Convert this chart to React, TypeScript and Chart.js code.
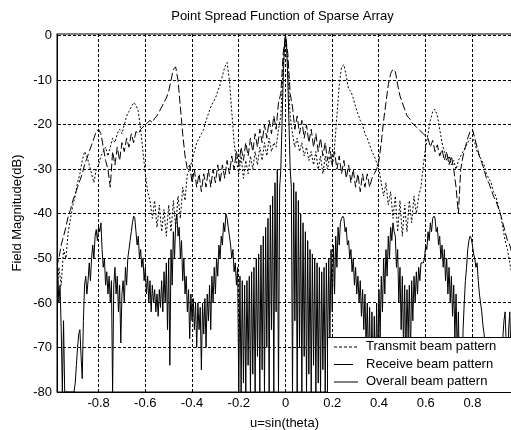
import React, { useEffect, useRef } from "react";
import { Chart, registerables } from "chart.js";

Chart.register(...registerables);

const TITLE = "Point Spread Function of Sparse Array";
const X_TITLE = "u=sin(theta)";
const Y_TITLE = "Field Magnitude(dB)";
const LEGEND_LABELS = ["Transmit beam pattern", "Receive beam pattern", "Overall beam pattern"];

const X_TICKS = [-0.8, -0.6, -0.4, -0.2, 0, 0.2, 0.4, 0.6, 0.8];
const X_TICK_LABELS = ["-0.8", "-0.6", "-0.4", "-0.2", "0", "0.2", "0.4", "0.6", "0.8"];
const Y_TICKS = [0, -10, -20, -30, -40, -50, -60, -70, -80];
const Y_TICK_LABELS = ["0", "-10", "-20", "-30", "-40", "-50", "-60", "-70", "-80"];

const X_MIN = -0.978;
const X_MAX = 0.978;
const Y_MIN = -80;
const Y_MAX = 0.4;

// sampling grid in u = sin(theta)
const U_START = -0.98;
const STEP_TR = 0.01;
const STEP_O = 0.005;

// transmit beam pattern (dB), u = -0.98 .. 0.98 step 0.01
const transmitDb = [
  -60, -52, -56, -48, -50, -44, -41, -38, -36, -33,
  -31, -28, -26, -27, -29, -31, -33, -30, -29, -27,
  -26, -25, -27, -25, -23, -24, -22, -21, -22, -20,
  -18, -17, -16, -15, -15.5, -17, -21, -26, -31, -35,
  -37, -41, -37, -43, -38, -44, -39, -45, -38, -44,
  -37, -43, -36, -41, -34, -37, -31, -30, -28, -26,
  -24, -23, -22, -21, -19, -17.5, -16, -15, -14, -12.5,
  -11, -9, -7, -6, -10, -17, -24, -28, -31, -27,
  -32, -28, -31, -27, -30, -26, -29, -25, -28, -24,
  -27, -23, -26, -24, -25, -21, -18, -7,
  0,
  -7, -18, -22, -25, -23, -26, -24, -27, -25, -28,
  -26, -29, -26, -30, -27, -31, -27, -30, -27, -29,
  -25, -18, -11, -7, -6.5, -9, -12, -12.5, -14, -16,
  -17.5, -19, -20, -22, -23, -24.5, -26, -27, -28.5, -30,
  -33, -36, -33, -38, -35, -41, -36, -44, -37, -45,
  -38, -44, -37, -42, -36, -40, -36, -34, -29, -25,
  -22, -19, -17, -16.5, -18, -21, -24, -26, -28, -27,
  -29, -28, -30, -28, -27, -26, -25, -24, -23, -23,
  -24, -26, -27, -28, -29, -31, -32, -33, -35, -36,
  -38, -40, -43, -46, -48, -51, -54, -57,
];

// receive beam pattern (dB), u = -0.98 .. 0.98 step 0.01
const receiveDb = [
  -52, -50, -47, -45, -43, -40.5, -39, -37, -35.5, -34,
  -32.5, -31, -29, -27.5, -26, -24.5, -23, -21.5, -21, -22,
  -25, -28, -30, -34, -26, -29, -25, -28, -24, -26,
  -23, -25, -22, -24, -21.5, -22, -21, -20.5, -20, -19.5,
  -19, -19.5, -18.5, -18, -17, -16, -15, -14, -12.5, -10,
  -7.5, -7, -10, -16, -22, -27, -30, -29, -33, -30,
  -34, -31, -35, -31, -34, -30, -34, -30, -33, -29,
  -33, -29, -32, -28, -31, -27, -30, -26, -29, -25,
  -28, -24, -27, -23, -26, -22, -25, -21, -24, -20,
  -23, -19, -22, -18, -21, -15, -13, -4,
  0,
  -4, -13, -16, -21, -18, -22, -19, -23, -20, -24,
  -21, -25, -22, -26, -23, -27, -24, -28, -25, -29,
  -26, -30, -27, -31, -28, -32, -29, -33, -30, -34,
  -31, -35, -31, -34, -31, -34, -32, -31, -30, -28,
  -24, -19, -15, -11, -8.5, -7.5, -8, -11, -13.5, -15,
  -16.5, -18, -18.5, -19.5, -20, -20.5, -21, -21.5, -22, -22.5,
  -23, -25, -23.5, -26, -24.5, -27, -25.5, -28, -26, -29,
  -27, -30, -34, -40, -30, -27, -25, -23, -21.5, -21,
  -23, -25, -27, -28.5, -30, -32, -33, -34.5, -36, -37,
  -38.5, -40, -42, -44, -46, -47, -49, -50,
];

// overall beam pattern (dB), u = -0.98 .. 0.98 step 0.005
const overallDb = [
  -50, -53, -60, -56, -66, -80, -64, -80, -80, -80,
  -80, -80, -80, -80, -80, -80, -78, -74, -70, -67,
  -66, -72, -77, -64, -56, -54, -58, -55, -51, -55,
  -50, -47, -50, -45, -43.5, -46, -43, -44, -42, -48,
  -52, -50, -56, -53, -58, -54, -60, -55, -80, -56,
  -52, -58, -54, -62, -56, -69, -58, -55, -60, -52,
  -56, -50, -48, -46, -44, -42, -40.5, -41, -44, -47,
  -45, -50, -48, -52, -50, -55, -52, -58, -54, -60,
  -55, -62, -56, -60, -57, -62, -58, -63, -57, -61,
  -55, -62, -53, -60, -51, -66, -50, -74, -48, -56,
  -44, -50, -42, -40, -45, -43, -50, -46, -55, -50,
  -58, -54, -62, -57, -68, -58, -64, -59, -66, -60,
  -70, -60, -66, -61, -75, -60, -67, -59, -70, -58,
  -64, -56, -66, -54, -60, -52, -58, -50, -54, -47,
  -50, -45, -47, -42, -44, -40, -41, -43, -45, -47,
  -50, -48, -53, -51, -56, -52, -80, -54, -80, -55,
  -78, -56, -80, -55, -74, -54, -80, -53, -76, -52,
  -80, -50, -72, -49, -80, -47, -75, -45, -80, -43,
  -70, -41, -80, -38, -66, -36, -80, -33, -62, -30,
  -80, -34, -30, -20, -10, -2.5,
  0,
  -2.5, -10, -20, -30, -34, -80, -33, -64, -35, -80,
  -37, -70, -40, -80, -42, -72, -44, -80, -46, -76,
  -48, -80, -49, -74, -50, -80, -51, -78, -52, -80,
  -53, -75, -52, -80, -51, -72, -50, -68, -48, -62,
  -47, -58, -45, -52, -43, -47, -42, -41, -40.5, -41,
  -44, -43, -47, -46, -50, -48, -53, -50, -56, -52,
  -58, -54, -60, -55, -63, -57, -66, -58, -70, -60,
  -74, -61, -80, -62, -80, -63, -80, -60, -75, -57,
  -68, -54, -62, -50, -58, -48, -54, -45, -50, -43,
  -46, -42, -44, -45, -52, -48, -60, -52, -66, -54,
  -70, -56, -74, -57, -68, -56, -72, -55, -64, -54,
  -60, -53, -58, -52, -55, -51, -51, -51, -50, -47,
  -48, -44, -46, -42, -44, -41, -40.5, -41, -44, -43,
  -47, -45, -50, -47, -52, -48, -55, -50, -58, -52,
  -60, -54, -63, -56, -68, -58, -72, -62, -80, -70,
  -80, -66, -60, -55, -52, -48, -46, -45, -45.5, -47,
  -49, -50, -52, -51, -55, -58, -60, -62, -65, -67,
  -70, -72, -75, -78, -80, -80, -80, -80, -80, -80,
  -80, -80, -80, -80, -75, -68, -64, -62, -70, -80,
  -66, -62, -72, -80, -74, -80,
];

const FONT = '"Liberation Sans", Arial, Helvetica, sans-serif';
const CANVAS_W = 530;
const CANVAS_H = 430;

function toPoints(values: number[], step: number) {
  return values.map((y, i) => ({ x: Math.round((U_START + i * step) * 1000) / 1000, y }));
}

function labelFor(ticks: number[], labels: string[], v: number) {
  for (let i = 0; i < ticks.length; i++) {
    if (Math.abs(ticks[i] - v) < 1e-9) return labels[i];
  }
  return "";
}

const overlayPlugin = {
  id: "overlay",
  afterDraw(chart: any) {
    const ctx = chart.ctx as CanvasRenderingContext2D;
    const a = chart.chartArea;
    ctx.save();
    ctx.setLineDash([]);
    ctx.strokeStyle = "#000";
    ctx.lineWidth = 1;
    ctx.strokeRect(a.left, a.top, a.right - a.left, a.bottom - a.top);

    ctx.fillStyle = "#000";
    ctx.font = `13px ${FONT}`;
    ctx.textAlign = "center";
    ctx.textBaseline = "middle";
    const cx = (a.left + a.right) / 2;
    ctx.fillText(TITLE, cx - 3, 16);
    ctx.fillText(X_TITLE, cx - 1, 423);
    ctx.save();
    ctx.translate(17, (a.top + a.bottom) / 2);
    ctx.rotate(-Math.PI / 2);
    ctx.fillText(Y_TITLE, 0, 0);
    ctx.restore();

    // legend box
    const lx = 327;
    const ly = 337;
    ctx.fillStyle = "#fff";
    ctx.fillRect(lx, ly, a.right - lx, a.bottom - ly);
    ctx.strokeStyle = "#000";
    ctx.strokeRect(lx + 0.5, ly + 0.5, a.right - lx, a.bottom - ly);
    const rows = [346.5, 364, 381.5];
    const ends = [357, 353, 358];
    const dashes = [[3, 2], [], []];
    ctx.fillStyle = "#000";
    ctx.textAlign = "left";
    for (let i = 0; i < 3; i++) {
      ctx.beginPath();
      ctx.setLineDash(dashes[i]);
      ctx.moveTo(334, rows[i] + 0.5);
      ctx.lineTo(ends[i], rows[i] + 0.5);
      ctx.stroke();
      ctx.setLineDash([]);
      ctx.fillText(LEGEND_LABELS[i], 366, rows[i]);
    }
    ctx.restore();
  },
};

export default function App() {
  const ref = useRef<HTMLCanvasElement | null>(null);

  useEffect(() => {
    if (!ref.current) return;
    Chart.defaults.font.family = FONT;
    Chart.defaults.font.size = 13;
    Chart.defaults.color = "#000";
    const chart = new Chart(ref.current, {
      type: "line",
      data: {
        datasets: [
          {
            label: LEGEND_LABELS[2],
            data: toPoints(overallDb, STEP_O),
            borderColor: "#000",
            borderWidth: 1,
            pointRadius: 0,
            tension: 0,
            order: 0,
          },
          {
            label: LEGEND_LABELS[1],
            data: toPoints(receiveDb, STEP_TR),
            borderColor: "#000",
            borderWidth: 1,
            borderDash: [8, 3],
            pointRadius: 0,
            tension: 0,
            order: 1,
          },
          {
            label: LEGEND_LABELS[0],
            data: toPoints(transmitDb, STEP_TR),
            borderColor: "#000",
            borderWidth: 1,
            borderDash: [2, 2],
            pointRadius: 0,
            tension: 0,
            order: 2,
          },
        ],
      },
      options: {
        responsive: false,
        animation: false,
        devicePixelRatio: 1,
        events: [],
        layout: { padding: { top: 34, right: CANVAS_W - 514, left: 0, bottom: 0 } },
        plugins: {
          legend: { display: false },
          title: { display: false },
          tooltip: { enabled: false },
        },
        scales: {
          x: {
            type: "linear",
            min: X_MIN,
            max: X_MAX,
            afterBuildTicks: (s: any) => {
              s.ticks = X_TICKS.map((v) => ({ value: v }));
            },
            afterFit: (s: any) => {
              s.height = 38;
            },
            ticks: {
              color: "#000",
              font: { size: 13, family: FONT },
              padding: 4,
              maxRotation: 0,
              autoSkip: false,
              callback: (v: any) => labelFor(X_TICKS, X_TICK_LABELS, Number(v)),
            },
            grid: { color: "#000", lineWidth: 1, drawTicks: false },
            border: { display: true, color: "#000", width: 1, dash: [3, 2] },
          },
          y: {
            type: "linear",
            min: Y_MIN,
            max: Y_MAX,
            afterBuildTicks: (s: any) => {
              s.ticks = Y_TICKS.map((v) => ({ value: v }));
            },
            afterFit: (s: any) => {
              s.width = 57;
            },
            ticks: {
              color: "#000",
              font: { size: 13, family: FONT },
              padding: 5,
              autoSkip: false,
              callback: (v: any) => labelFor(Y_TICKS, Y_TICK_LABELS, Number(v)),
            },
            grid: { color: "#000", lineWidth: 1, drawTicks: false },
            border: { display: true, color: "#000", width: 1, dash: [3, 2] },
          },
        },
      },
      plugins: [overlayPlugin],
    } as any);
    return () => chart.destroy();
  }, []);

  return (
    <canvas
      ref={ref}
      width={CANVAS_W}
      height={CANVAS_H}
      style={{ position: "fixed", left: 0, top: 0, width: CANVAS_W, height: CANVAS_H, background: "#fff" }}
    />
  );
}
